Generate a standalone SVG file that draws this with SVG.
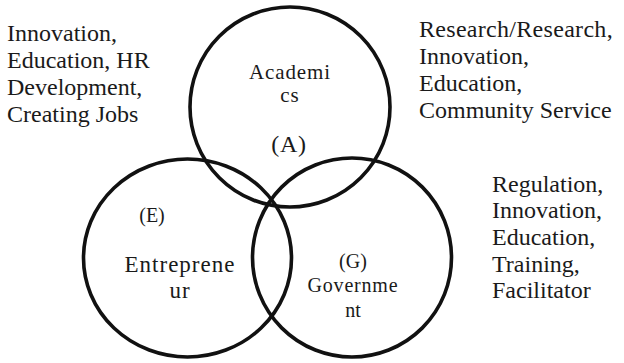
<svg xmlns="http://www.w3.org/2000/svg" width="624" height="363" viewBox="0 0 624 363">
<style>
.ring{fill:none;stroke:#111;stroke-width:3.6}
.t{fill:#1a1a1a;font-size:24px}
.c{text-anchor:middle}
.s{font-size:20px}
</style>
<rect width="624" height="363" fill="#fff"/>
<g font-family="'Liberation Serif', 'DejaVu Serif', serif" class="t">
<g id="academics">
<circle class="ring" cx="290" cy="107" r="100"/>
<text class="c" x="290" y="79" font-size="21" letter-spacing="0.9">Academi</text>
<text class="c" x="290" y="102" font-size="21" letter-spacing="0.9">cs</text>
<text class="c" x="289" y="152" letter-spacing="0.8">(A)</text>
</g>
<g id="entrepreneur">
<ellipse class="ring" cx="187.5" cy="258" rx="104" ry="99"/>
<text class="c" x="152" y="222" font-size="20">(E)</text>
<text class="c" x="180" y="272" font-size="23" letter-spacing="1">Entreprene</text>
<text class="c" x="180" y="298" font-size="23" letter-spacing="1">ur</text>
</g>
<g id="government">
<circle class="ring" cx="352" cy="257.5" r="99.5"/>
<text class="c" x="353" y="268" font-size="20">(G)</text>
<text class="c" x="353" y="292" font-size="20" letter-spacing="0.8">Governme</text>
<text class="c" x="353" y="317" font-size="20">nt</text>
</g>
<g id="connectors"></g>
<g id="notes">
<text x="7" y="41">Innovation,</text>
<text x="7" y="68">Education, HR</text>
<text x="7" y="95">Development,</text>
<text x="7" y="122">Creating Jobs</text>
<text x="419" y="37" letter-spacing="0.3">Research/Research,</text>
<text x="419" y="64">Innovation,</text>
<text x="419" y="91">Education,</text>
<text x="419" y="118">Community Service</text>
<text x="492" y="192">Regulation,</text>
<text x="492" y="218">Innovation,</text>
<text x="492" y="245">Education,</text>
<text x="492" y="272">Training,</text>
<text x="492" y="298">Facilitator</text>
</g>
</g>
</svg>
